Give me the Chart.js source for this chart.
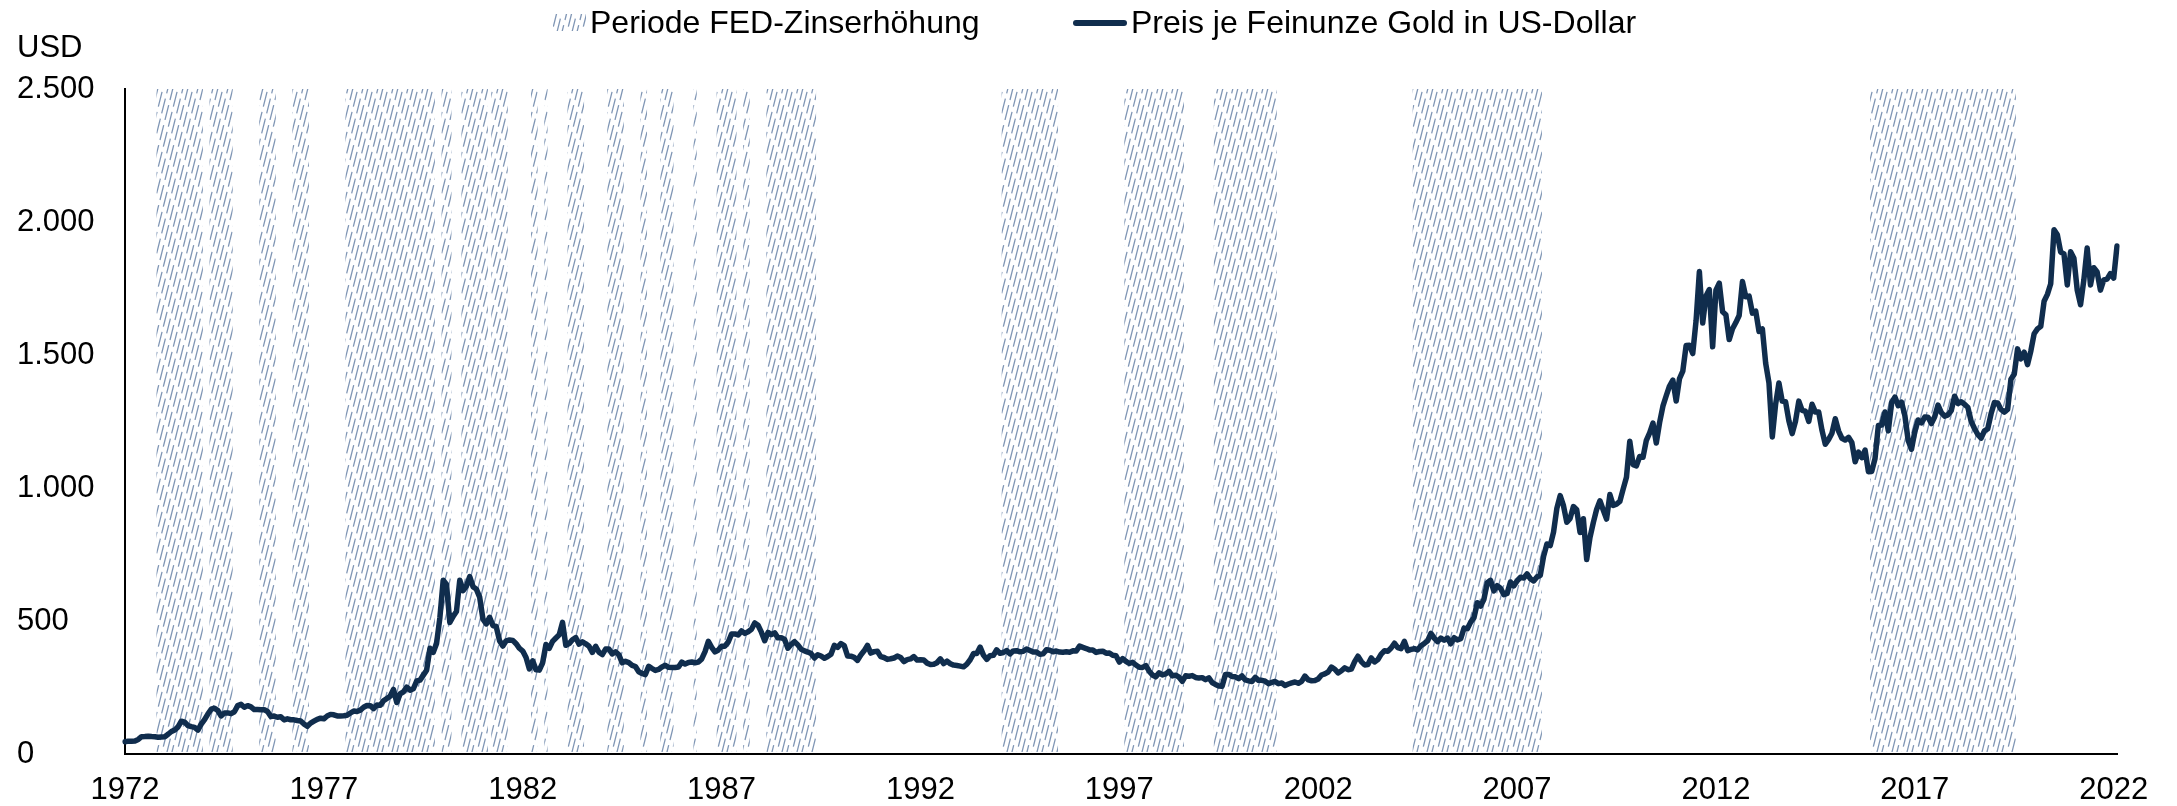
<!DOCTYPE html>
<html lang="de">
<head>
<meta charset="utf-8">
<title>Goldpreis und FED-Zinserhöhungen</title>
<script src="https://cdn.jsdelivr.net/npm/chart.js@4.4.0/dist/chart.umd.min.js"></script>
<style>
  html, body { margin: 0; padding: 0; background: #fff; }
  #goldChart { display: block; }
</style>
</head>
<body>
<canvas id="goldChart" width="2177" height="806"></canvas>
<script>
// Preis je Feinunze Gold (USD), Monatsende, Jan 1972 - Feb 2022
const gold1970s = [
  45.8, 48.3, 48.3, 49.0, 54.6, 65.1, 65.7, 67.0, 65.5, 64.9, 62.9, 63.9,
  65.1, 74.2, 84.6, 90.5, 102.0, 123.3, 120.0, 106.8, 103.0, 100.1, 90.0, 112.3,
  129.2, 150.2, 168.4, 172.2, 163.3, 143.0, 154.1, 154.6, 151.8, 158.8, 181.7, 186.5,
  175.8, 181.8, 177.0, 167.0, 167.0, 166.3, 166.7, 159.8, 141.3, 142.9, 138.3, 140.3,
  128.2, 132.3, 128.8, 128.4, 125.8, 123.8, 112.5, 104.0, 116.0, 123.2, 130.3, 134.5,
  132.3, 142.8, 148.9, 147.3, 143.0, 143.0, 144.1, 145.8, 154.1, 161.5, 160.0, 164.9,
  175.8, 182.3, 181.6, 170.9, 184.2, 183.1, 200.3, 208.7, 217.1, 242.6, 193.4, 226.0,
  233.7, 251.3, 240.1, 245.3, 274.6, 277.5, 296.5, 315.1, 397.3, 382.0, 415.7, 512.0
];
const gold1980s = [
  653.0, 637.0, 494.5, 517.5, 535.5, 653.5, 614.3, 631.3, 666.8, 629.0, 619.8, 589.8,
  506.5, 489.0, 513.8, 482.8, 479.3, 426.0, 406.0, 425.5, 428.8, 427.0, 414.5, 397.5,
  387.0, 362.6, 320.0, 350.3, 316.5, 315.3, 342.8, 411.5, 397.0, 423.3, 436.0, 448.0,
  495.0, 408.5, 414.8, 429.3, 437.5, 413.0, 422.0, 414.3, 405.0, 382.0, 405.0, 382.4,
  373.8, 394.3, 394.3, 376.5, 384.3, 373.1, 342.8, 348.3, 343.8, 333.5, 329.0, 309.0,
  302.8, 298.5, 330.0, 321.4, 314.0, 317.8, 327.5, 333.3, 326.0, 325.1, 325.3, 326.8,
  345.5, 338.2, 344.0, 345.8, 343.2, 345.5, 357.5, 384.7, 423.2, 401.0, 383.5, 390.9,
  405.0, 405.5, 421.0, 451.0, 451.5, 447.3, 462.5, 453.4, 459.5, 468.8, 492.5, 484.1,
  458.0, 426.2, 457.0, 449.0, 455.5, 436.6, 437.4, 430.6, 397.7, 412.4, 422.6, 410.2,
  394.0, 387.8, 383.2, 377.6, 361.0, 373.0, 368.3, 359.8, 366.5, 375.3, 408.2, 401.0
];
const gold1990s = [
  415.1, 407.7, 368.5, 367.8, 363.1, 352.2, 372.3, 387.8, 408.4, 379.5, 384.9, 386.2,
  366.0, 362.7, 355.7, 357.9, 360.8, 368.4, 362.9, 347.4, 354.9, 357.5, 366.3, 353.2,
  354.1, 353.1, 341.7, 336.4, 337.5, 343.4, 357.9, 340.0, 349.0, 339.3, 334.2, 332.9,
  330.5, 327.6, 337.8, 354.3, 377.4, 378.1, 401.8, 371.6, 355.5, 369.6, 370.9, 391.8,
  378.5, 381.6, 389.2, 376.5, 387.6, 388.3, 384.0, 385.8, 394.9, 389.1, 383.1, 383.3,
  374.9, 376.4, 392.0, 389.8, 384.3, 387.1, 383.4, 382.7, 384.0, 382.7, 387.8, 387.0,
  405.6, 400.7, 396.4, 391.3, 390.6, 382.0, 385.3, 386.5, 379.0, 379.5, 371.3, 369.3,
  345.5, 358.6, 348.1, 340.2, 344.9, 334.6, 326.4, 325.4, 332.1, 311.4, 296.8, 290.2,
  304.9, 297.4, 301.0, 310.7, 293.6, 296.3, 288.9, 273.4, 293.9, 292.3, 294.7, 287.8,
  285.4, 287.1, 279.5, 286.6, 268.6, 261.3, 255.6, 254.8, 299.0, 299.1, 291.4, 290.3
];
const gold2000s = [
  283.3, 293.7, 278.4, 275.1, 272.3, 288.2, 276.8, 277.0, 273.7, 264.5, 269.1, 272.7,
  264.5, 266.7, 257.7, 263.2, 267.5, 270.6, 265.9, 273.0, 293.1, 278.8, 275.5, 276.5,
  282.3, 296.9, 301.4, 308.2, 326.6, 318.5, 304.7, 312.8, 323.7, 316.9, 319.1, 347.2,
  367.5, 347.5, 334.9, 336.8, 361.4, 346.0, 354.8, 375.6, 388.0, 386.3, 398.4, 416.3,
  399.8, 395.9, 423.7, 388.5, 393.3, 395.8, 391.4, 407.3, 415.7, 425.6, 453.4, 435.6,
  422.2, 435.5, 427.5, 435.7, 414.5, 437.1, 429.0, 433.3, 473.3, 470.8, 495.7, 513.0,
  568.8, 556.0, 582.0, 644.0, 653.0, 613.5, 632.5, 623.5, 599.3, 603.8, 646.7, 632.0,
  650.5, 664.2, 661.8, 677.0, 659.1, 650.5, 665.5, 672.0, 743.0, 789.5, 783.5, 833.8,
  923.3, 971.5, 933.5, 871.0, 885.8, 930.3, 918.0, 833.0, 884.5, 730.8, 814.5, 869.8,
  919.5, 952.0, 916.5, 883.3, 975.5, 934.5, 939.0, 949.5, 995.8, 1040.0, 1175.8, 1087.5
];
const gold2010s = [
  1083, 1118.5, 1115.5, 1179.3, 1207.5, 1244, 1169, 1246, 1307.5, 1346.8, 1383.5, 1405.5,
  1327, 1411, 1439, 1535.5, 1536.5, 1505.5, 1628.5, 1813.5, 1620, 1722, 1746, 1531,
  1744, 1770, 1662.5, 1651.3, 1558, 1598.5, 1622, 1648.5, 1776, 1719, 1721.5, 1657.5,
  1664.8, 1588.5, 1598.3, 1469, 1394.5, 1192, 1314.5, 1394.8, 1326.5, 1324, 1253, 1204.5,
  1251, 1326.5, 1291.8, 1288.5, 1250.5, 1315, 1285.3, 1285.8, 1216.5, 1164.3, 1182.8, 1206,
  1260.3, 1214, 1187, 1180.3, 1190.5, 1171, 1098.4, 1135, 1114, 1142.4, 1061.5, 1062.3,
  1111, 1234.9, 1237, 1285.7, 1214.7, 1320.8, 1342, 1309.3, 1322.5, 1272, 1178.1, 1145.9,
  1212.8, 1255.6, 1244.9, 1266.5, 1266.2, 1242.3, 1267.6, 1311.8, 1283.1, 1270.2, 1274.9, 1291,
  1345.2, 1317.9, 1323.9, 1315.1, 1303, 1250.5, 1223.8, 1201.2, 1187.3, 1215, 1222.3, 1279,
  1321, 1319.2, 1295.4, 1285.4, 1295.4, 1409, 1427.6, 1523, 1485.3, 1510.9, 1463.9, 1514.8
];
const gold2020s = [
  1580, 1598, 1608, 1702, 1728, 1768, 1971, 1952, 1887, 1880, 1763, 1888,
  1864, 1744, 1689, 1782, 1902, 1763, 1828, 1812, 1744, 1782, 1785, 1806,
  1789, 1910
];
const goldPrices = [...gold1970s, ...gold1980s, ...gold1990s, ...gold2000s, ...gold2010s, ...gold2020s];

// Monats-Kategorien "JJJJ-MM"
const months = [];
for (let i = 0; i < goldPrices.length; i++) {
  const yr = 1972 + Math.floor(i / 12);
  months.push(yr + '-' + String(i % 12 + 1).padStart(2, '0'));
}

// Perioden der FED-Zinserhöhungen (erster / letzter Monat)
const hikeStart = ['1972-11', '1974-03', '1975-06', '1976-04', '1977-08', '1980-01', '1980-07', '1981-04',
  '1982-04', '1982-08', '1983-03', '1984-03', '1985-01', '1985-07', '1986-05', '1986-12', '1987-08',
  '1988-03', '1994-02', '1997-03', '1999-06', '2004-06', '2015-12'];
const hikeEnd = ['1973-12', '1974-09', '1975-10', '1976-08', '1979-10', '1980-03', '1981-02', '1981-08',
  '1982-05', '1982-08', '1983-07', '1984-07', '1985-02', '1985-10', '1986-05', '1987-05', '1987-09',
  '1989-05', '1995-06', '1998-08', '2000-12', '2007-08', '2019-07'];

const yTicks = [0, 500, 1000, 1500, 2000, 2500];
const lineColor = '#102d4d';
const fontFamily = '"Liberation Sans", Arial, sans-serif';

function fmtDE(v) {
  return v >= 1000 ? Math.floor(v / 1000) + '.' + String(v % 1000).padStart(3, '0') : String(v);
}

// feine, steile Schraffur mit versetzten Strichen
let hatch = null;
function getHatch(ctx) {
  if (hatch) return hatch;
  const w = 15, h = 60;
  const seg = Math.hypot(w, h) / 3;
  const c = document.createElement('canvas');
  c.width = w; c.height = h;
  const g = c.getContext('2d');
  g.strokeStyle = 'rgba(96,124,162,0.8)';
  g.lineWidth = 1.3;
  g.setLineDash([seg * 0.74, seg * 0.26]);
  for (let j = -3; j <= 3; j++) {
    g.lineDashOffset = (((j % 3) + 3) % 3) * seg / 3;
    g.beginPath();
    g.moveTo(j * 5, h);
    g.lineTo(j * 5 + w, 0);
    g.stroke();
  }
  hatch = ctx.createPattern(c, 'repeat');
  return hatch;
}

const hikeBands = {
  id: 'hikeBands',
  beforeDatasetsDraw(chart) {
    const { ctx, scales: { x, y } } = chart;
    const top = y.getPixelForValue(yTicks[yTicks.length - 1]);
    const bottom = y.getPixelForValue(0) - 2;
    ctx.save();
    ctx.fillStyle = getHatch(ctx);
    hikeStart.forEach((s, i) => {
      const x0 = x.getPixelForValue(months.indexOf(s) - 0.5);
      const x1 = x.getPixelForValue(months.indexOf(hikeEnd[i]) + 0.5);
      ctx.fillRect(x0, top, x1 - x0, bottom - top);
    });
    ctx.restore();
  }
};

// Legende und Achsentitel
const extras = {
  id: 'extras',
  afterDraw(chart) {
    const ctx = chart.ctx;
    ctx.save();
    ctx.textBaseline = 'alphabetic';
    ctx.textAlign = 'left';
    ctx.font = '31px ' + fontFamily;
    ctx.fillStyle = '#000';
    ctx.fillText('USD', 17, 57);

    ctx.font = '32px ' + fontFamily;
    ctx.fillStyle = getHatch(ctx);
    ctx.fillRect(553, 14, 33, 17);
    ctx.fillStyle = '#000';
    ctx.fillText('Periode FED-Zinserhöhung', 590, 33);

    ctx.strokeStyle = lineColor;
    ctx.lineWidth = 6;
    ctx.lineCap = 'round';
    ctx.beginPath();
    ctx.moveTo(1076, 23);
    ctx.lineTo(1124, 23);
    ctx.stroke();
    ctx.fillText('Preis je Feinunze Gold in US-Dollar', 1131, 33);
    ctx.restore();
  }
};

new Chart(document.getElementById('goldChart'), {
  type: 'line',
  data: {
    labels: months,
    datasets: [{
      label: 'Preis je Feinunze Gold in US-Dollar',
      data: goldPrices,
      borderColor: lineColor,
      borderWidth: 5.5,
      pointRadius: 0,
      tension: 0,
      borderJoinStyle: 'round',
      borderCapStyle: 'round',
      fill: false
    }]
  },
  options: {
    responsive: false,
    devicePixelRatio: 1,
    animation: false,
    layout: { padding: { left: 17, right: 60, top: 89, bottom: 0 } },
    plugins: { legend: { display: false }, tooltip: { enabled: false } },
    scales: {
      x: {
        type: 'category',
        ticks: {
          autoSkip: false, maxRotation: 0, minRotation: 0, padding: 18,
          color: '#000', font: { family: fontFamily, size: 31 },
          callback: v => months[v].slice(0, 4)
        },
        afterBuildTicks: scale => { scale.ticks = scale.ticks.filter(t => t.value % 60 === 0); },
        grid: { display: false, drawTicks: false },
        border: { display: true, color: '#000', width: 2 },
        afterFit: scale => { scale.height = 52; }
      },
      y: {
        min: 0, max: 2500,
        afterBuildTicks: scale => { scale.ticks = yTicks.map(v => ({ value: v })); },
        ticks: {
          crossAlign: 'far', color: '#000', font: { family: fontFamily, size: 31 },
          callback: v => fmtDE(v)
        },
        grid: { display: false, drawTicks: false },
        border: { display: true, color: '#000', width: 2 },
        afterFit: scale => { scale.width = 108; }
      }
    }
  },
  plugins: [hikeBands, extras]
});
</script>
</body>
</html>
